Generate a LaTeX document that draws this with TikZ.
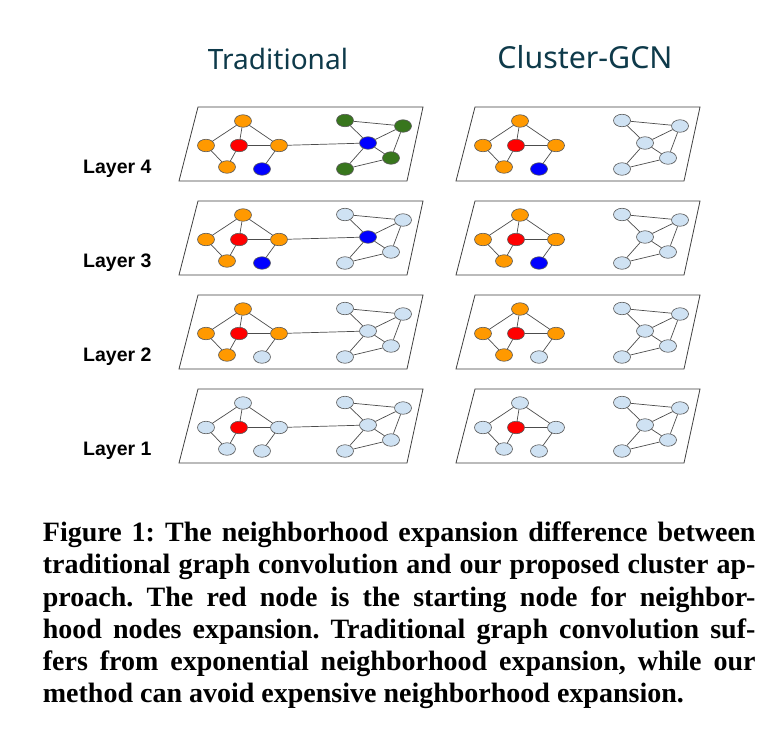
\documentclass[tikz,border=0pt]{standalone}
\usepackage{fontspec}
\setmainfont{Liberation Serif}
\newfontfamily\labfont{Liberation Sans}
\newfontfamily\handfont{Noto Sans}
\usetikzlibrary{shapes.geometric}
\definecolor{org}{HTML}{FF9900}
\definecolor{lbl}{HTML}{CFE2F3}
\definecolor{grn}{HTML}{38761D}
\definecolor{blu}{HTML}{0000FF}
\definecolor{rd}{HTML}{FF0000}
\definecolor{ink}{HTML}{0E3A4A}
\frenchspacing
\tikzset{
  v/.style={ellipse, minimum width=17pt, minimum height=12.5pt, inner sep=0pt, draw=black!65, line width=0.6pt},
  ed/.style={draw=black!70, line width=0.7pt},
  frame/.style={draw=black!75, line width=0.8pt},
  lay/.style={font=\labfont\bfseries\fontsize{19.5pt}{21pt}\selectfont, anchor=base west, inner sep=0pt},
  capline/.style={font=\bfseries\fontsize{28pt}{32pt}\selectfont, anchor=base west, inner sep=0pt},
  ttl/.style={text=ink, inner sep=0pt}
}
\newcommand\capbox[1]{\hbox to 712.6pt{#1}}
\newcommand\drawpanel[7]{%
  \begin{scope}[shift={(#2,#3)}]
    \draw[frame] (198,0) -- (423,0) -- (407,74) -- (179,74) -- cycle;
    \node[v,fill=#4] (#1T) at (243,14) {};
    \node[v,fill=#4] (#1L) at (206,38.5) {};
    \node[v,fill=rd] (#1R) at (239,38.5) {};
    \node[v,fill=#4] (#1O) at (279,38.5) {};
    \node[v,fill=#4] (#1B) at (227,60) {};
    \node[v,fill=#5] (#1S) at (262,62) {};
    \node[v,fill=#7] (#1G1) at (345,13.5) {};
    \node[v,fill=#7] (#1G2) at (403,19) {};
    \node[v,fill=#6] (#1C) at (368,36) {};
    \node[v,fill=#7] (#1G3) at (391,51) {};
    \node[v,fill=#7] (#1G4) at (345,62) {};
  \end{scope}
  \draw[ed] (#1T) -- (#1L);
  \draw[ed] (#1T) -- (#1R);
  \draw[ed] (#1T) -- (#1O);
  \draw[ed] (#1L) -- (#1B);
  \draw[ed] (#1R) -- (#1B);
  \draw[ed] (#1R) -- (#1O);
  \draw[ed] (#1O) -- (#1S);
  \draw[ed] (#1G1) -- (#1G2);
  \draw[ed] (#1G1) -- (#1C);
  \draw[ed] (#1C) -- (#1G2);
  \draw[ed] (#1G2) -- (#1G3);
  \draw[ed] (#1C) -- (#1G3);
  \draw[ed] (#1C) -- (#1G4);
  \draw[ed] (#1G4) -- (#1G3);
}
\begin{document}
\begin{tikzpicture}[x=1pt,y=-1pt]
\useasboundingbox[fill=white] (0,0) rectangle (778,739);
% titles
\node[ttl] (tt) at (278,59) {\resizebox{140pt}{!}{\handfont Traditional}};
\node[ttl] (tc) at (585,57) {\resizebox{175pt}{!}{\handfont Cluster-GCN}};
% panels
\drawpanel{t4}{0}{107}{org}{blu}{blu}{grn}
\drawpanel{c4}{277}{107}{org}{blu}{lbl}{lbl}
\drawpanel{t3}{0}{201}{org}{blu}{blu}{lbl}
\drawpanel{c3}{277}{201}{org}{blu}{lbl}{lbl}
\drawpanel{t2}{0}{295}{org}{lbl}{lbl}{lbl}
\drawpanel{c2}{277}{295}{org}{lbl}{lbl}{lbl}
\drawpanel{t1}{0}{389}{lbl}{lbl}{lbl}{lbl}
\drawpanel{c1}{277}{389}{lbl}{lbl}{lbl}{lbl}
\draw[ed] (t4O) -- (t4C);
\draw[ed] (t3O) -- (t3C);
\draw[ed] (t2O) -- (t2C);
\draw[ed] (t1O) -- (t1C);
% layer labels
\node[lay] (l4) at (83,173) {Layer 4};
\node[lay] (l3) at (83,267) {Layer 3};
\node[lay] (l2) at (83,361) {Layer 2};
\node[lay] (l1) at (83,455) {Layer 1};
% caption
\node[capline] (c1) at (42.7,541.7) {\capbox{Figure 1: The neighborhood expansion difference between}};
\node[capline] (c2) at (42.7,573.5) {\capbox{traditional graph convolution and our proposed cluster ap-}};
\node[capline] (c3) at (42.7,606) {\capbox{proach. The red node is the starting node for neighbor-}};
\node[capline] (c4) at (42.7,638) {\capbox{hood nodes expansion. Traditional graph convolution suf-}};
\node[capline] (c5) at (42.7,670.5) {\capbox{fers from exponential neighborhood expansion, while our}};
\node[capline] (c6) at (42.7,702.7) {method can avoid expensive neighborhood expansion.};
\end{tikzpicture}
\end{document}
